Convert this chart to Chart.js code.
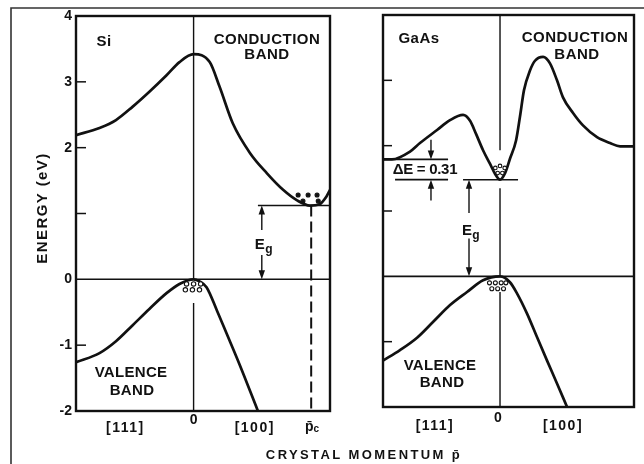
<!DOCTYPE html>
<html>
<head>
<meta charset="utf-8">
<script src="https://cdn.jsdelivr.net/npm/chart.js@4.4.1/dist/chart.umd.min.js"></script>
<style>
  html, body { margin: 0; padding: 0; background: #fff; }
  #wrap { position: relative; width: 644px; height: 464px; overflow: hidden; background: #fff; }
  #wrap canvas { position: absolute; left: 0; top: 0; }
</style>
</head>
<body>
<div id="wrap">
  <canvas id="siChart" width="644" height="464"></canvas>
  <canvas id="gaasChart" width="644" height="464"></canvas>
</div>
<script>
// ---- Energy axis (eV) ----
const energyTicks = [-2, -1, 0, 1, 2, 3, 4];
const energyTickLabels = ['-2', '-1', '0', '', '2', '3', '4'];

// ---- Si band structure (k: crystal momentum, E: eV) ----
const siCondK = [-1.0, -0.8, -0.66, -0.52, -0.376, -0.23, -0.12, 0, 0.137, 0.222, 0.333, 0.479, 0.624, 0.761, 0.88, 0.99, 1.07, 1.13, 1.16];
const siCondE = [2.19, 2.30, 2.42, 2.62, 2.85, 3.10, 3.30, 3.42, 3.30, 2.92, 2.37, 1.92, 1.61, 1.36, 1.20, 1.12, 1.14, 1.26, 1.36];
const siValK = [-1.0, -0.8, -0.66, -0.52, -0.376, -0.23, -0.12, 0, 0.05, 0.11, 0.2, 0.28, 0.39, 0.547];
const siValE = [-1.26, -1.12, -0.94, -0.70, -0.45, -0.21, -0.07, 0, -0.03, -0.12, -0.48, -0.82, -1.29, -2.0];
const siGap = 1.12;          // conduction band minimum (indirect gap)
const siPc = 1.0;            // momentum of the conduction minimum
const siElecK = [0.889, 0.974, 1.05, 0.93, 1.06];
const siElecE = [1.28, 1.28, 1.28, 1.19, 1.19];
const siHoleK = [-0.06, 0.0, 0.06, -0.07, -0.01, 0.05];
const siHoleE = [-0.07, -0.07, -0.07, -0.16, -0.16, -0.16];
const siMomentumLabels = ['[111]', '0', '[100]', 'p\u0304'];
const siMomentumK = [-0.58, 0, 0.52, 1.0];

// ---- GaAs band structure ----
const gaasCondK = [-1.0, -0.923, -0.769, -0.684, -0.538, -0.427, -0.316, -0.256, -0.205, -0.145, -0.085, -0.043, 0, 0.043, 0.085, 0.137, 0.171, 0.205, 0.256, 0.299, 0.368, 0.427, 0.487, 0.538, 0.624, 0.709, 0.829, 0.94, 1.026, 1.145];
const gaasCondE = [1.79, 1.79, 1.91, 2.04, 2.24, 2.39, 2.47, 2.38, 2.18, 1.93, 1.72, 1.57, 1.48, 1.58, 1.80, 2.08, 2.45, 2.85, 3.15, 3.30, 3.36, 3.26, 3.00, 2.74, 2.50, 2.31, 2.13, 2.04, 1.99, 1.99];
const gaasValK = [-1.0, -0.855, -0.709, -0.573, -0.427, -0.282, -0.145, 0, 0.085, 0.145, 0.231, 0.316, 0.402, 0.487, 0.573];
const gaasValE = [-1.29, -1.13, -0.94, -0.70, -0.44, -0.24, -0.06, 0, -0.09, -0.26, -0.57, -0.93, -1.29, -1.64, -2.0];
const gaasGap = 1.48;        // direct gap at k = 0
const gaasDeltaE = 0.31;     // separation of the satellite valley
const gaasElecK = [-0.04, 0.0, 0.04, -0.02, 0.02];
const gaasElecE = [1.66, 1.69, 1.66, 1.58, 1.58];
const gaasHoleK = [-0.09, -0.04, 0.01, 0.05, -0.07, -0.02, 0.03];
const gaasHoleE = [-0.10, -0.10, -0.10, -0.10, -0.19, -0.19, -0.19];
const gaasMomentumLabels = ['[111]', '0', '[100]'];
const gaasMomentumK = [-0.556, 0, 0.538];

// ---- helpers ----
const INK = '#111';
const FONT = "'Liberation Sans', Arial, sans-serif";
const pts = (ks, es) => ks.map((k, i) => ({ x: k, y: es[i] }));
const seg = (k1, e1, k2, e2) => [{ x: k1, y: e1 }, { x: k2, y: e2 }];

function curve(data) {
  return { type: 'line', data, borderColor: INK, borderWidth: 2.7, pointRadius: 0,
           cubicInterpolationMode: 'monotone', fill: false };
}
function rule(data, width, dash) {
  return { type: 'line', data, borderColor: INK, borderWidth: width || 1.5, pointRadius: 0,
           tension: 0, fill: false, borderDash: dash || [] };
}
function dots(data, filled, r) {
  return { type: 'scatter', data, showLine: false, pointRadius: r || 2,
           pointBackgroundColor: filled ? INK : '#fff', pointBorderColor: INK,
           pointBorderWidth: 1.1 };
}

function text(ctx, str, x, y, size, align, spacing) {
  ctx.save();
  ctx.font = 'bold ' + size + 'px ' + FONT;
  ctx.fillStyle = INK;
  ctx.textAlign = align || 'center';
  ctx.textBaseline = 'middle';
  ctx.letterSpacing = (spacing || 0) + 'px';
  ctx.fillText(str, x, y);
  ctx.restore();
}
function arrow(ctx, x, y1, y2) {
  const d = Math.sign(y2 - y1);
  ctx.save();
  ctx.strokeStyle = INK; ctx.fillStyle = INK; ctx.lineWidth = 1.4;
  ctx.beginPath(); ctx.moveTo(x, y1); ctx.lineTo(x, y2 - 6 * d); ctx.stroke();
  ctx.beginPath(); ctx.moveTo(x, y2); ctx.lineTo(x - 3.2, y2 - 9 * d); ctx.lineTo(x + 3.2, y2 - 9 * d);
  ctx.closePath(); ctx.fill();
  ctx.restore();
}
function gapLabel(ctx, x, y) {
  text(ctx, 'E', x - 2, y, 15, 'center', 0);
  text(ctx, 'g', x + 7, y + 5, 12, 'center', 0);
}
function panelFrame(chart, tickLen) {
  const { ctx, chartArea: a, scales } = chart;
  ctx.save();
  ctx.strokeStyle = INK;
  ctx.lineWidth = 2.4;
  ctx.strokeRect(a.left, a.top, a.right - a.left, a.bottom - a.top);
  ctx.lineWidth = 1.5;
  energyTicks.forEach(v => {
    if (v === 0 || v === 4 || v === -2) return;
    const y = scales.y.getPixelForValue(v);
    ctx.beginPath(); ctx.moveTo(a.left, y); ctx.lineTo(a.left + tickLen, y); ctx.stroke();
  });
  ctx.restore();
}

const baseOptions = (kMin, kMax, pad, showY) => ({
  responsive: false,
  animation: false,
  devicePixelRatio: 1,
  layout: { padding: pad },
  plugins: { legend: { display: false }, tooltip: { enabled: false } },
  events: [],
  scales: {
    x: { type: 'linear', display: false, min: kMin, max: kMax },
    y: {
      type: 'linear', display: showY, min: -2, max: 4, position: 'left',
      afterBuildTicks: s => { s.ticks = energyTicks.map(v => ({ value: v })); },
      afterFit: s => { s.width = showY ? 76 : 0; },
      ticks: {
        callback: v => energyTickLabels[energyTicks.indexOf(v)],
        font: { family: FONT, size: 14, weight: 'bold' }, color: INK, padding: 4
      },
      grid: { display: false, drawTicks: false },
      border: { display: false }
    }
  }
});

// ---- Si panel ----
const siDecor = {
  id: 'siDecor',
  afterDatasetsDraw(chart) {
    const { ctx, chartArea: a, scales: { x, y } } = chart;
    panelFrame(chart, 10);

    // outer figure frame
    ctx.save();
    ctx.strokeStyle = '#333'; ctx.lineWidth = 1.6;
    ctx.beginPath(); ctx.moveTo(11, 464); ctx.lineTo(11, 8); ctx.lineTo(644, 8); ctx.stroke();
    ctx.restore();

    // band gap arrows
    const gx = x.getPixelForValue(0.58);
    arrow(ctx, gx, y.getPixelForValue(0.75), y.getPixelForValue(siGap));
    arrow(ctx, gx, y.getPixelForValue(0.37), y.getPixelForValue(0));
    gapLabel(ctx, gx, y.getPixelForValue(0.53));

    // labels
    text(ctx, 'Si', 104, 42, 15, 'center', 0.5);
    text(ctx, 'CONDUCTION', 267, 40, 15, 'center', 0.5);
    text(ctx, 'BAND', 267, 55, 15, 'center', 0.5);
    text(ctx, 'VALENCE', 131, 373, 15, 'center', 0.3);
    text(ctx, 'BAND', 132, 391, 15, 'center', 0.3);

    // momentum labels under the axis
    siMomentumLabels.forEach((lab, i) => {
      const px = x.getPixelForValue(siMomentumK[i]);
      if (lab === '0') text(ctx, lab, px, a.bottom + 9, 14, 'center', 0);
      else if (i === siMomentumLabels.length - 1) {
        text(ctx, lab, px - 2, a.bottom + 16, 14, 'center', 0);
        text(ctx, 'c', px + 5, a.bottom + 18, 10, 'center', 0);
      } else text(ctx, lab, px, a.bottom + 17, 14, 'center', 1.5);
    });

    // axis titles
    ctx.save();
    ctx.translate(43, 208);
    ctx.rotate(-Math.PI / 2);
    text(ctx, 'ENERGY (eV)', 0, 0, 15, 'center', 1.4);
    ctx.restore();
    text(ctx, 'CRYSTAL MOMENTUM p\u0304', 364, 455, 13, 'center', 2.4);
  }
};

new Chart(document.getElementById('siChart'), {
  type: 'line',
  data: {
    datasets: [
      dots(pts(siElecK, siElecE), true, 2),
      dots(pts(siHoleK, siHoleE), false, 2.2),
      curve(pts(siCondK, siCondE)),
      curve(pts(siValK, siValE)),
      rule(seg(-1.0, 0, 1.16, 0), 1.5),
      rule(seg(0, 4, 0, 0), 1.4),
      rule(seg(0, -0.36, 0, -2), 1.4),
      rule(seg(0.547, siGap, 1.16, siGap), 1.5),
      rule(seg(siPc, siGap, siPc, -2), 2, [11, 5])
    ]
  },
  options: baseOptions(-1.0, 1.16, { left: 0, top: 16, right: 314, bottom: 53 }, true),
  plugins: [siDecor]
});

// ---- GaAs panel ----
const gaasDecor = {
  id: 'gaasDecor',
  afterDatasetsDraw(chart) {
    const { ctx, chartArea: a, scales: { x, y } } = chart;
    panelFrame(chart, 9);

    // satellite valley separation
    const dx = x.getPixelForValue(-0.59);
    arrow(ctx, dx, y.getPixelForValue(gaasGap + gaasDeltaE + 0.3), y.getPixelForValue(gaasGap + gaasDeltaE));
    arrow(ctx, dx, y.getPixelForValue(gaasGap - 0.32), y.getPixelForValue(gaasGap));
    text(ctx, '\u0394E = 0.31', 425, 170, 15, 'center', -0.3);

    // band gap arrows
    const gx = x.getPixelForValue(-0.265);
    arrow(ctx, gx, y.getPixelForValue(0.97), y.getPixelForValue(gaasGap));
    arrow(ctx, gx, y.getPixelForValue(0.58), y.getPixelForValue(0));
    gapLabel(ctx, gx, y.getPixelForValue(0.70));

    text(ctx, 'GaAs', 419, 39, 15, 'center', 0.5);
    text(ctx, 'CONDUCTION', 575, 38, 15, 'center', 0.5);
    text(ctx, 'BAND', 577, 55, 15, 'center', 0.5);
    text(ctx, 'VALENCE', 440, 366, 15, 'center', 0.3);
    text(ctx, 'BAND', 442, 383, 15, 'center', 0.3);

    gaasMomentumLabels.forEach((lab, i) => {
      const px = x.getPixelForValue(gaasMomentumK[i]);
      if (lab === '0') text(ctx, lab, px - 2, a.bottom + 11, 14, 'center', 0);
      else text(ctx, lab, px, a.bottom + 19, 14, 'center', 1.5);
    });
  }
};

new Chart(document.getElementById('gaasChart'), {
  type: 'line',
  data: {
    datasets: [
      dots(pts(gaasElecK, gaasElecE), false, 1.8),
      dots(pts(gaasHoleK, gaasHoleE), false, 2),
      curve(pts(gaasCondK, gaasCondE)),
      curve(pts(gaasValK, gaasValE)),
      rule(seg(-1.0, 0, 1.145, 0), 1.8),
      rule(seg(0, 4, 0, 1.93), 1.4),
      rule(seg(0, 1.35, 0, 0), 1.4),
      rule(seg(0, -0.24, 0, -2), 1.4),
      rule(seg(-0.316, gaasGap, 0.154, gaasGap), 1.5),
      rule(seg(-1.0, gaasGap + gaasDeltaE, -0.444, gaasGap + gaasDeltaE), 1.6),
      rule(seg(-0.897, gaasGap, -0.444, gaasGap), 1.6)
    ]
  },
  options: baseOptions(-1.0, 1.145, { left: 383, top: 15, right: 10, bottom: 57 }, false),
  plugins: [gaasDecor]
});
</script>
</body>
</html>
